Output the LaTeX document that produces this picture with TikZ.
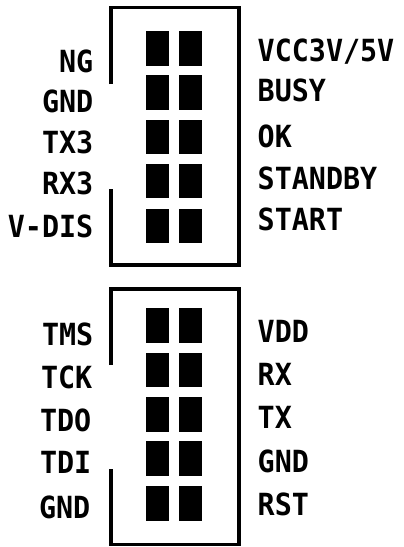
\documentclass[tikz,border=0pt]{standalone}
\usepackage{fontspec}
\newfontfamily\labfont{DejaVu Sans Mono}[FakeStretch=0.93]
\begin{document}
\begin{tikzpicture}[x=1pt,y=-1pt,
  pinbox/.style={fill=black,draw=none,inner sep=0pt,minimum width=23pt,minimum height=34.5pt},
  lab/.style={inner sep=0pt,font=\labfont\fontsize{30.5}{31}\selectfont\bfseries},
  lefttxt/.style={lab,anchor=base east},
  righttxt/.style={lab,anchor=base west},
  frame/.style={line width=3.6pt,line join=miter}]
\useasboundingbox (0,0) rectangle (404,547);
% top header frame
\coordinate (t1) at (110.7,84);
\coordinate (t2) at (110.7,7.5);
\coordinate (t3) at (238.7,7.5);
\coordinate (t4) at (238.7,264.7);
\coordinate (t5) at (110.7,264.7);
\coordinate (t6) at (110.7,189);
\draw[frame] (t1) -- (t2) -- (t3) -- (t4) -- (t5) -- (t6);
% bottom header frame
\coordinate (b1) at (110.7,365);
\coordinate (b2) at (110.7,289);
\coordinate (b3) at (238.7,289);
\coordinate (b4) at (238.7,544.5);
\coordinate (b5) at (110.7,544.5);
\coordinate (b6) at (110.7,469.3);
\draw[frame] (b1) -- (b2) -- (b3) -- (b4) -- (b5) -- (b6);
% pins top
\foreach \i/\y in {1/48.5,2/92.5,3/137,4/181,5/226}{
  \node[pinbox] (ta\i) at (157,\y) {};
  \node[pinbox] (tb\i) at (190,\y) {};
}
% pins bottom
\foreach \i/\y in {1/325.5,2/370,3/414.5,4/458.5,5/503.5}{
  \node[pinbox] (ba\i) at (157.5,\y) {};
  \node[pinbox] (bb\i) at (190.5,\y) {};
}
% labels top
\node[lefttxt] (l1) at (93.5,72) {NG};
\node[lefttxt] (l2) at (93.5,112) {GND};
\node[lefttxt] (l3) at (93.5,153) {TX3};
\node[lefttxt] (l4) at (93.5,194) {RX3};
\node[lefttxt] (l5) at (93.5,237) {V-DIS};
\node[righttxt] (r1) at (257.5,61) {VCC3V/5V};
\node[righttxt] (r2) at (257.5,101) {BUSY};
\node[righttxt] (r3) at (257.5,147) {OK};
\node[righttxt] (r4) at (257.5,189) {STANDBY};
\node[righttxt] (r5) at (257.5,230) {START};
% labels bottom
\node[lefttxt] (l6) at (93.5,345) {TMS};
\node[lefttxt] (l7) at (92.5,388) {TCK};
\node[lefttxt] (l8) at (91.5,431) {TDO};
\node[lefttxt] (l9) at (91.5,473) {TDI};
\node[lefttxt] (l10) at (90.5,518) {GND};
\node[righttxt] (r6) at (257.5,342) {VDD};
\node[righttxt] (r7) at (257.5,385) {RX};
\node[righttxt] (r8) at (257.5,428) {TX};
\node[righttxt] (r9) at (257.5,472) {GND};
\node[righttxt] (r10) at (257.5,515) {RST};
\end{tikzpicture}
\end{document}
